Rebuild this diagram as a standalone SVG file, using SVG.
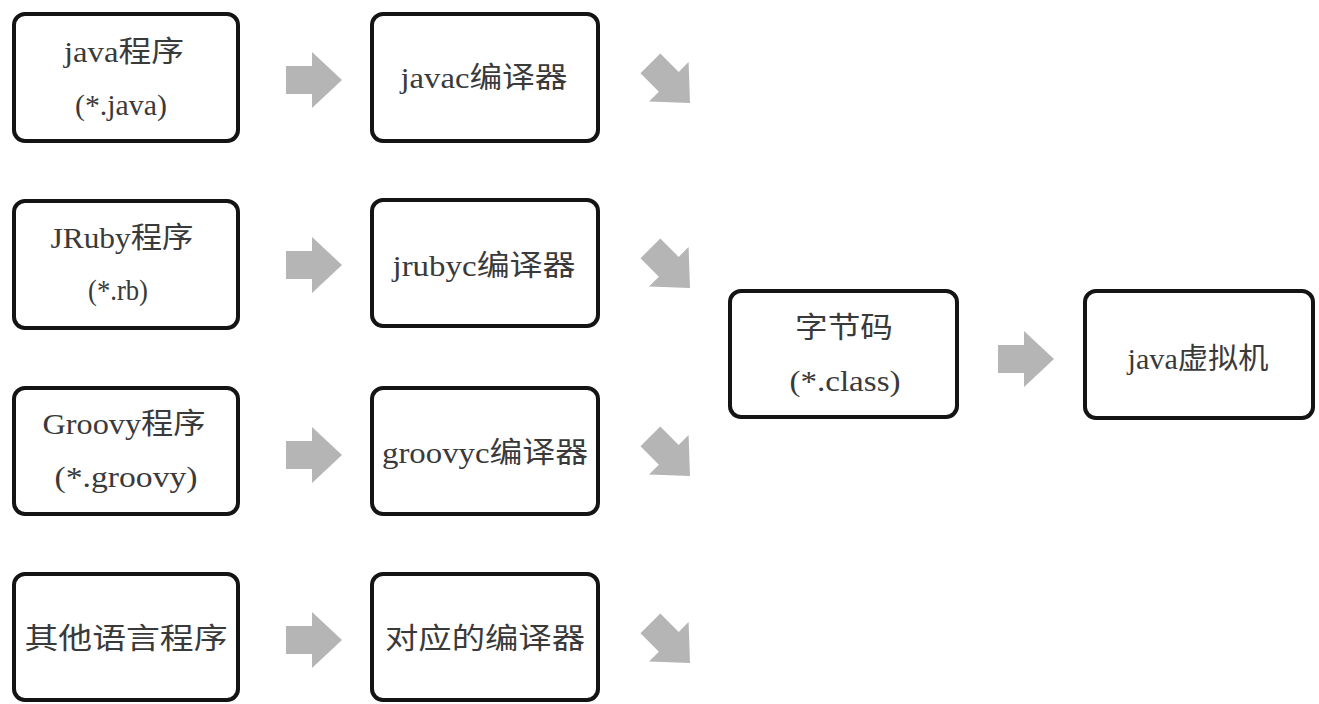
<svg xmlns="http://www.w3.org/2000/svg" xmlns:xlink="http://www.w3.org/1999/xlink" width="1319" height="704" viewBox="0 0 1319 704">
<style>
.box{fill:#fff;stroke:#141414;stroke-width:4}
.t{font-family:"Liberation Serif","Noto Sans CJK SC",serif;font-size:29px;fill:#3a3a3a;text-anchor:middle}
.arr{fill:#b5b5b5}
</style>
<defs>
<path id="arrow" d="M0,-14 H26 V-28 L56,0 L26,28 V14 H0 Z"/>
</defs>
<rect width="1319" height="704" fill="#fff"/>
<g id="connectors" class="arr">
<use xlink:href="#arrow" transform="translate(286,80)"/>
<use xlink:href="#arrow" transform="translate(286,265)"/>
<use xlink:href="#arrow" transform="translate(286,455)"/>
<use xlink:href="#arrow" transform="translate(286,640)"/>
<use xlink:href="#arrow" transform="translate(650.4,63.4) rotate(45)"/>
<use xlink:href="#arrow" transform="translate(650.4,248.4) rotate(45)"/>
<use xlink:href="#arrow" transform="translate(650.4,436.4) rotate(45)"/>
<use xlink:href="#arrow" transform="translate(650.4,623.4) rotate(45)"/>
<use xlink:href="#arrow" transform="translate(998,359)"/>
</g>
<g id="java-src">
<rect class="box" x="14" y="14" width="224" height="127" rx="11"/>
<text class="t" x="124" y="62" textLength="120" lengthAdjust="spacingAndGlyphs">java程序</text>
<text class="t" x="121" y="115" textLength="92" lengthAdjust="spacingAndGlyphs">(*.java)</text>
</g>
<g id="jruby-src">
<rect class="box" x="14" y="201" width="224" height="127" rx="11"/>
<text class="t" x="122" y="248" textLength="143" lengthAdjust="spacingAndGlyphs">JRuby程序</text>
<text class="t" x="118" y="300" textLength="60" lengthAdjust="spacingAndGlyphs">(*.rb)</text>
</g>
<g id="groovy-src">
<rect class="box" x="14" y="388" width="224" height="126" rx="11"/>
<text class="t" x="124" y="434" textLength="163" lengthAdjust="spacingAndGlyphs">Groovy程序</text>
<text class="t" x="126" y="487" textLength="143" lengthAdjust="spacingAndGlyphs">(*.groovy)</text>
</g>
<g id="other-src">
<rect class="box" x="14" y="574" width="224" height="126" rx="11"/>
<text class="t" x="126" y="649" textLength="203" lengthAdjust="spacingAndGlyphs">其他语言程序</text>
</g>
<g id="javac">
<rect class="box" x="372" y="14" width="226" height="127" rx="11"/>
<text class="t" x="484" y="88" textLength="167" lengthAdjust="spacingAndGlyphs">javac编译器</text>
</g>
<g id="jrubyc">
<rect class="box" x="372" y="200" width="226" height="126" rx="11"/>
<text class="t" x="484" y="276" textLength="183" lengthAdjust="spacingAndGlyphs">jrubyc编译器</text>
</g>
<g id="groovyc">
<rect class="box" x="372" y="388" width="226" height="126" rx="11"/>
<text class="t" x="485" y="463" textLength="206" lengthAdjust="spacingAndGlyphs">groovyc编译器</text>
</g>
<g id="other-compiler">
<rect class="box" x="372" y="574" width="226" height="126" rx="11"/>
<text class="t" x="485" y="649" textLength="200" lengthAdjust="spacingAndGlyphs">对应的编译器</text>
</g>
<g id="bytecode">
<rect class="box" x="730" y="291" width="227" height="126" rx="11"/>
<text class="t" x="844" y="338" textLength="98" lengthAdjust="spacingAndGlyphs">字节码</text>
<text class="t" x="845" y="391" textLength="111" lengthAdjust="spacingAndGlyphs">(*.class)</text>
</g>
<g id="jvm">
<rect class="box" x="1085" y="291" width="228" height="127" rx="11"/>
<text class="t" x="1198" y="369" textLength="141" lengthAdjust="spacingAndGlyphs">java虚拟机</text>
</g>
</svg>
